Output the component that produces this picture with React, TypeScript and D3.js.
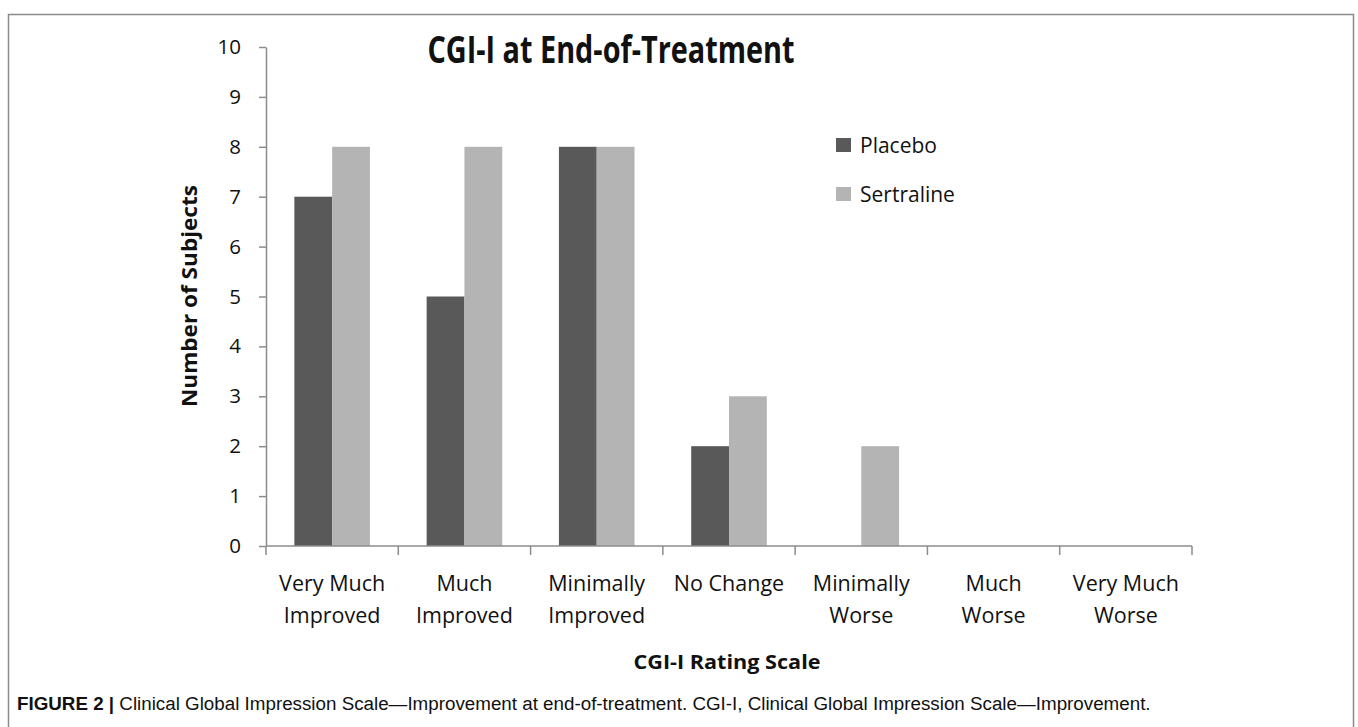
import React, { useRef, useEffect } from 'react'
import { select, scaleLinear, scaleBand, axisLeft, range } from 'd3'

const categories = [
  ['Very Much', 'Improved'],
  ['Much', 'Improved'],
  ['Minimally', 'Improved'],
  ['No Change'],
  ['Minimally', 'Worse'],
  ['Much', 'Worse'],
  ['Very Much', 'Worse'],
]
const seriesNames = ['Placebo', 'Sertraline']
const placebo = [7, 5, 8, 2, 0, 0, 0]
const sertraline = [8, 8, 8, 3, 2, 0, 0]
const yTicks = [0, 1, 2, 3, 4, 5, 6, 7, 8, 9, 10]
const colors = ['#595959', '#b4b4b4']

const font = '"Open Sans", Lato, sans-serif'

function App() {
  const svgRef = useRef(null)

  useEffect(() => {
    const svg = select(svgRef.current)
    svg.selectAll('*').remove()

    const left = 266, right = 1192, top = 47, bottom = 546
    const keys = categories.map((c, i) => String(i))

    const x = scaleBand().domain(keys).range([left, right])
    const y = scaleLinear().domain([0, 10]).range([bottom, top])
    const sub = scaleBand().domain(seriesNames).range([0, x.bandwidth()]).paddingInner(0).paddingOuter(0.75)

    // frame
    svg.append('path')
      .attr('d', 'M8.5,740 V14.5 H1353.5 V740')
      .attr('fill', 'none').attr('stroke', '#8a8a8a').attr('stroke-width', 1.5)

    // title
    svg.append('text')
      .attr('x', 611).attr('y', 63)
      .attr('text-anchor', 'middle')
      .attr('font-family', font).attr('font-weight', 700).attr('font-size', 38)
      .attr('textLength', 367).attr('lengthAdjust', 'spacingAndGlyphs')
      .attr('fill', '#111')
      .text('CGI-I at End-of-Treatment')

    // bars
    const data = [placebo, sertraline]
    data.forEach((vals, si) => {
      svg.append('g').selectAll('rect')
        .data(vals)
        .enter()
        .append('rect')
        .attr('x', (d, i) => x(keys[i]) + sub(seriesNames[si]))
        .attr('y', d => y(d))
        .attr('width', sub.bandwidth())
        .attr('height', d => bottom - y(d))
        .attr('fill', colors[si])
    })

    // y axis
    const yAxis = svg.append('g')
      .attr('transform', `translate(${left},0)`)
      .call(axisLeft(y).tickValues(yTicks).tickSize(7).tickPadding(18).tickSizeOuter(0))
    yAxis.select('.domain').attr('stroke', '#8c8c8c').attr('stroke-width', 1.5)
    yAxis.selectAll('.tick line').attr('stroke', '#8c8c8c').attr('stroke-width', 1.5)
    yAxis.selectAll('.tick text')
      .attr('font-family', font).attr('font-size', 20.5).attr('fill', '#111')

    // x axis
    const xa = svg.append('g')
    xa.append('line')
      .attr('x1', left).attr('x2', right).attr('y1', bottom).attr('y2', bottom)
      .attr('stroke', '#8c8c8c').attr('stroke-width', 1.5)
    xa.selectAll('.bt')
      .data(range(categories.length + 1))
      .enter()
      .append('line')
      .attr('x1', i => left + i * x.step()).attr('x2', i => left + i * x.step())
      .attr('y1', bottom).attr('y2', bottom + 9)
      .attr('stroke', '#8c8c8c').attr('stroke-width', 1.5)

    categories.forEach((lines, i) => {
      const t = svg.append('text')
        .attr('x', x(keys[i]) + x.bandwidth() / 2)
        .attr('y', 591)
        .attr('text-anchor', 'middle')
        .attr('font-family', font).attr('font-size', 21.5).attr('fill', '#111')
      lines.forEach((l, j) => {
        t.append('tspan').attr('x', x(keys[i]) + x.bandwidth() / 2).attr('dy', j === 0 ? 0 : 32).text(l)
      })
    })

    // axis titles
    svg.append('text')
      .attr('x', 727).attr('y', 669)
      .attr('text-anchor', 'middle')
      .attr('font-family', font).attr('font-weight', 700).attr('font-size', 20)
      .attr('textLength', 187).attr('lengthAdjust', 'spacingAndGlyphs').attr('fill', '#111')
      .text('CGI-I Rating Scale')

    svg.append('text')
      .attr('transform', 'translate(197,296) rotate(-90)')
      .attr('text-anchor', 'middle')
      .attr('font-family', font).attr('font-weight', 700).attr('font-size', 21)
      .attr('textLength', 222).attr('lengthAdjust', 'spacingAndGlyphs').attr('fill', '#111')
      .text('Number of Subjects')

    // legend
    seriesNames.forEach((n, i) => {
      const ly = 138 + i * 49
      svg.append('rect')
        .attr('x', 836).attr('y', ly).attr('width', 15).attr('height', 14)
        .attr('fill', colors[i])
      svg.append('text')
        .attr('x', 860).attr('y', ly + 15)
        .attr('font-family', font).attr('font-size', 21).attr('fill', '#111')
        .text(n)
    })

    // caption
    const cap = svg.append('text')
      .attr('x', 17).attr('y', 710)
      .attr('font-family', '"Liberation Sans", Arial, sans-serif').attr('font-size', 18.8).attr('fill', '#111')
    cap.append('tspan').attr('font-weight', 700).text('FIGURE 2 | ')
    cap.append('tspan').text('Clinical Global Impression Scale\u2014Improvement at end-of-treatment. CGI-I, Clinical Global Impression Scale\u2014Improvement.')
  }, [])

  return (
    <svg ref={svgRef} width="1358" height="727" style={{ position: 'absolute', left: 0, top: 0, background: '#fff' }}></svg>
  )
}

export default App
